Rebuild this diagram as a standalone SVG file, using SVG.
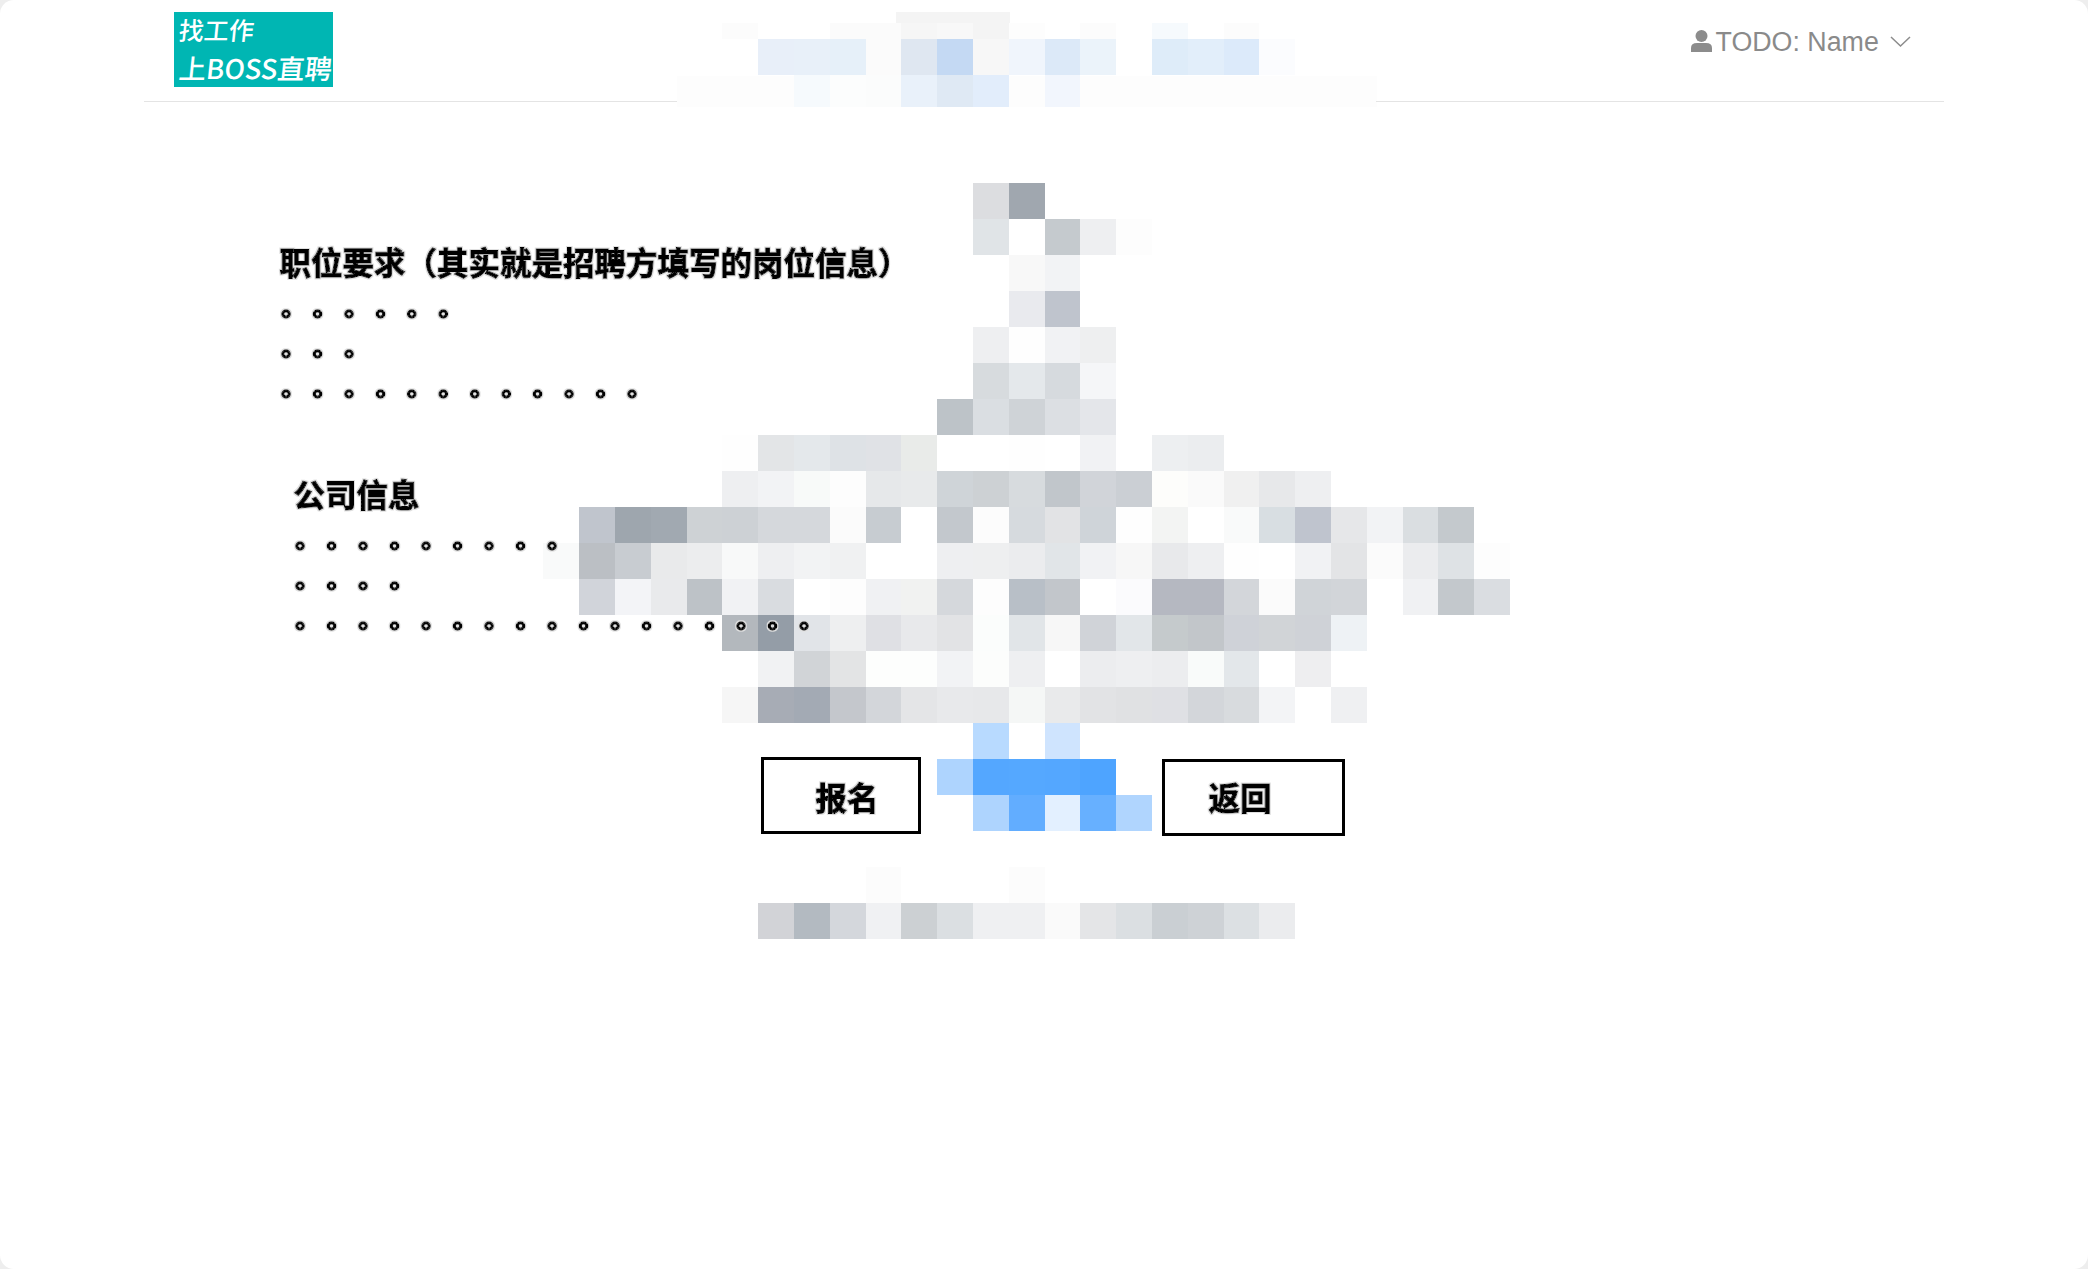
<svg xmlns="http://www.w3.org/2000/svg" width="2088" height="1269" viewBox="0 0 2088 1269">
<style>
.t{font-family:"Noto Sans CJK SC","Noto Sans",sans-serif;font-size:31.5px;font-weight:700;fill:#000;stroke:#000;stroke-width:1px;filter:url(#halo)}
.d{font-family:"Noto Sans CJK SC","Noto Sans",sans-serif;font-size:26px;font-weight:700;fill:#000;stroke:#000;stroke-width:1.4px;filter:url(#halo)}
.l{font-family:"Noto Sans CJK SC","Noto Sans",sans-serif;fill:#fff;font-weight:500}
.b{fill:#fff;stroke:#000;stroke-width:3px}
.rule{fill:#e4e4e4}
</style>
<defs>
<filter id="halo" x="-5%" y="-20%" width="110%" height="140%">
<feMorphology in="SourceAlpha" operator="dilate" radius="1.2" result="d"/>
<feFlood flood-color="#e0e0e0"/>
<feComposite in2="d" operator="in" result="h"/>
<feMerge><feMergeNode in="h"/><feMergeNode in="SourceGraphic"/></feMerge>
</filter>
</defs>
<rect width="2088" height="1269" fill="#eeeeee"/>
<rect width="2088" height="1269" rx="14" fill="#fff"/>
<g id="mosaic" shape-rendering="crispEdges">
<rect x="677" y="76" width="700" height="31" fill="#fdfdfd"/>
<rect x="896" y="12" width="114" height="11" fill="#f4f4f4"/>
<g id="row-23">
<rect x="722" y="23" width="36" height="16" fill="#fcfcfc"/><rect x="830" y="23" width="71" height="16" fill="#fbfbfb"/><rect x="901" y="23" width="36" height="16" fill="#f6f6f6"/><rect x="937" y="23" width="36" height="16" fill="#f8f8f8"/><rect x="973" y="23" width="36" height="16" fill="#f4f4f4"/><rect x="1009" y="23" width="36" height="16" fill="#fdfdfd"/><rect x="1080" y="23" width="36" height="16" fill="#fcfcfc"/><rect x="1152" y="23" width="36" height="16" fill="#f6fafd"/><rect x="1224" y="23" width="35" height="16" fill="#fcfcfc"/>
</g>
<g id="row-39">
<rect x="758" y="39" width="36" height="36" fill="#e8eff9"/><rect x="794" y="39" width="36" height="36" fill="#e8f0f9"/><rect x="830" y="39" width="36" height="36" fill="#e6f0f9"/><rect x="866" y="39" width="35" height="36" fill="#fbfbfb"/><rect x="901" y="39" width="36" height="36" fill="#dfe7f1"/><rect x="937" y="39" width="36" height="36" fill="#c4d9f3"/><rect x="973" y="39" width="36" height="36" fill="#f7f7f7"/><rect x="1009" y="39" width="36" height="36" fill="#f0f5fc"/><rect x="1045" y="39" width="35" height="36" fill="#dce9f8"/><rect x="1080" y="39" width="36" height="36" fill="#ebf3fa"/><rect x="1152" y="39" width="36" height="36" fill="#deecf9"/><rect x="1188" y="39" width="36" height="36" fill="#e2eefa"/><rect x="1224" y="39" width="35" height="36" fill="#dceafa"/><rect x="1259" y="39" width="36" height="36" fill="#fbfcfe"/>
</g>
<g id="row-75">
<rect x="794" y="75" width="36" height="32" fill="#f6fafd"/><rect x="830" y="75" width="36" height="32" fill="#fcfdfd"/><rect x="866" y="75" width="35" height="32" fill="#fbfcfc"/><rect x="901" y="75" width="36" height="32" fill="#e9f1fa"/><rect x="937" y="75" width="36" height="32" fill="#dfe9f4"/><rect x="973" y="75" width="36" height="32" fill="#e2edfb"/><rect x="1045" y="75" width="35" height="32" fill="#f2f6fd"/>
</g>
<g id="row-183">
<rect x="973" y="183" width="36" height="36" fill="#dcdde0"/><rect x="1009" y="183" width="36" height="36" fill="#a0a7af"/>
</g>
<g id="row-219">
<rect x="973" y="219" width="36" height="36" fill="#e0e4e7"/><rect x="1045" y="219" width="35" height="36" fill="#c5cace"/><rect x="1080" y="219" width="36" height="36" fill="#eeeff1"/><rect x="1116" y="219" width="36" height="36" fill="#fdfdfd"/>
</g>
<g id="row-255">
<rect x="1009" y="255" width="36" height="36" fill="#f8f8f8"/><rect x="1045" y="255" width="35" height="36" fill="#f2f3f5"/>
</g>
<g id="row-291">
<rect x="1009" y="291" width="36" height="36" fill="#e9eaee"/><rect x="1045" y="291" width="35" height="36" fill="#bfc4cd"/>
</g>
<g id="row-327">
<rect x="973" y="327" width="36" height="36" fill="#eeeff1"/><rect x="1009" y="327" width="36" height="36" fill="#fefefe"/><rect x="1045" y="327" width="35" height="36" fill="#f1f2f4"/><rect x="1080" y="327" width="36" height="36" fill="#eeeff0"/>
</g>
<g id="row-363">
<rect x="973" y="363" width="36" height="36" fill="#d7dbde"/><rect x="1009" y="363" width="36" height="36" fill="#e4e8eb"/><rect x="1045" y="363" width="35" height="36" fill="#d6dade"/><rect x="1080" y="363" width="36" height="36" fill="#f5f6f8"/>
</g>
<g id="row-399">
<rect x="937" y="399" width="36" height="36" fill="#bdc3c8"/><rect x="973" y="399" width="36" height="36" fill="#dadee2"/><rect x="1009" y="399" width="36" height="36" fill="#cfd3d7"/><rect x="1045" y="399" width="35" height="36" fill="#dcdfe3"/><rect x="1080" y="399" width="36" height="36" fill="#e4e6ea"/>
</g>
<g id="row-435">
<rect x="722" y="435" width="36" height="36" fill="#fefefe"/><rect x="758" y="435" width="36" height="36" fill="#e3e5e7"/><rect x="794" y="435" width="36" height="36" fill="#e4e8eb"/><rect x="830" y="435" width="36" height="36" fill="#dee2e6"/><rect x="866" y="435" width="35" height="36" fill="#e0e2e6"/><rect x="901" y="435" width="36" height="36" fill="#e9ebe9"/><rect x="1009" y="435" width="36" height="36" fill="#fefefe"/><rect x="1080" y="435" width="36" height="36" fill="#f1f2f4"/><rect x="1152" y="435" width="36" height="36" fill="#edeff1"/><rect x="1188" y="435" width="36" height="36" fill="#ebedef"/>
</g>
<g id="row-471">
<rect x="722" y="471" width="36" height="36" fill="#eeeff1"/><rect x="758" y="471" width="36" height="36" fill="#f2f3f5"/><rect x="794" y="471" width="36" height="36" fill="#f8faf9"/><rect x="830" y="471" width="36" height="36" fill="#fdfdfd"/><rect x="866" y="471" width="35" height="36" fill="#e6e8ea"/><rect x="901" y="471" width="36" height="36" fill="#e8eaeb"/><rect x="937" y="471" width="36" height="36" fill="#cfd4d8"/><rect x="973" y="471" width="36" height="36" fill="#cdd1d4"/><rect x="1009" y="471" width="36" height="36" fill="#d7dbde"/><rect x="1045" y="471" width="35" height="36" fill="#c1c6cb"/><rect x="1080" y="471" width="36" height="36" fill="#d1d4d9"/><rect x="1116" y="471" width="36" height="36" fill="#cbcfd4"/><rect x="1152" y="471" width="36" height="36" fill="#fdfdfb"/><rect x="1188" y="471" width="36" height="36" fill="#fafafa"/><rect x="1224" y="471" width="35" height="36" fill="#f0f0f0"/><rect x="1259" y="471" width="36" height="36" fill="#e7e8ea"/><rect x="1295" y="471" width="36" height="36" fill="#eeeff1"/>
</g>
<g id="row-507">
<rect x="579" y="507" width="36" height="36" fill="#c0c5cd"/><rect x="615" y="507" width="36" height="36" fill="#9ea6ae"/><rect x="651" y="507" width="36" height="36" fill="#a1a9b1"/><rect x="687" y="507" width="35" height="36" fill="#ced2d5"/><rect x="722" y="507" width="36" height="36" fill="#cdd1d5"/><rect x="758" y="507" width="36" height="36" fill="#d5d8dc"/><rect x="794" y="507" width="36" height="36" fill="#d5d8dc"/><rect x="830" y="507" width="36" height="36" fill="#fbfbfb"/><rect x="866" y="507" width="35" height="36" fill="#c7ccd1"/><rect x="937" y="507" width="36" height="36" fill="#c3c8cd"/><rect x="973" y="507" width="36" height="36" fill="#fcfcfc"/><rect x="1009" y="507" width="36" height="36" fill="#d6dade"/><rect x="1045" y="507" width="35" height="36" fill="#e2e3e5"/><rect x="1080" y="507" width="36" height="36" fill="#cfd4d9"/><rect x="1116" y="507" width="36" height="36" fill="#fefefe"/><rect x="1152" y="507" width="36" height="36" fill="#f3f4f3"/><rect x="1224" y="507" width="35" height="36" fill="#f9fafa"/><rect x="1259" y="507" width="36" height="36" fill="#d8dee2"/><rect x="1295" y="507" width="36" height="36" fill="#bfc4ce"/><rect x="1331" y="507" width="36" height="36" fill="#e6e7e9"/><rect x="1367" y="507" width="36" height="36" fill="#f2f3f5"/><rect x="1403" y="507" width="35" height="36" fill="#dadee1"/><rect x="1438" y="507" width="36" height="36" fill="#c4c9cd"/>
</g>
<g id="row-543">
<rect x="543" y="543" width="36" height="36" fill="#f9fafa"/><rect x="579" y="543" width="36" height="36" fill="#bbbfc4"/><rect x="615" y="543" width="36" height="36" fill="#c8ccd1"/><rect x="651" y="543" width="36" height="36" fill="#e9eaeb"/><rect x="687" y="543" width="35" height="36" fill="#ecedee"/><rect x="722" y="543" width="36" height="36" fill="#f8f9f9"/><rect x="758" y="543" width="36" height="36" fill="#eeeff1"/><rect x="794" y="543" width="36" height="36" fill="#f2f3f4"/><rect x="830" y="543" width="36" height="36" fill="#f0f1f2"/><rect x="937" y="543" width="36" height="36" fill="#eeeff1"/><rect x="973" y="543" width="36" height="36" fill="#eeeff0"/><rect x="1009" y="543" width="36" height="36" fill="#ebecee"/><rect x="1045" y="543" width="35" height="36" fill="#e1e5e8"/><rect x="1080" y="543" width="36" height="36" fill="#f1f2f4"/><rect x="1116" y="543" width="36" height="36" fill="#f7f7f7"/><rect x="1152" y="543" width="36" height="36" fill="#e8e9eb"/><rect x="1188" y="543" width="36" height="36" fill="#eeeff1"/><rect x="1224" y="543" width="35" height="36" fill="#fefefe"/><rect x="1295" y="543" width="36" height="36" fill="#f1f2f4"/><rect x="1331" y="543" width="36" height="36" fill="#e3e4e6"/><rect x="1367" y="543" width="36" height="36" fill="#fbfbfb"/><rect x="1403" y="543" width="35" height="36" fill="#ebecee"/><rect x="1438" y="543" width="36" height="36" fill="#dee2e5"/><rect x="1474" y="543" width="36" height="36" fill="#fdfdfd"/>
</g>
<g id="row-579">
<rect x="579" y="579" width="36" height="36" fill="#d1d4da"/><rect x="615" y="579" width="36" height="36" fill="#f3f4f7"/><rect x="651" y="579" width="36" height="36" fill="#e9eaec"/><rect x="687" y="579" width="35" height="36" fill="#bdc2c7"/><rect x="722" y="579" width="36" height="36" fill="#f1f2f4"/><rect x="758" y="579" width="36" height="36" fill="#d9dce0"/><rect x="830" y="579" width="36" height="36" fill="#fdfdfd"/><rect x="866" y="579" width="35" height="36" fill="#f0f1f3"/><rect x="901" y="579" width="36" height="36" fill="#f1f2f1"/><rect x="937" y="579" width="36" height="36" fill="#d5d8dc"/><rect x="973" y="579" width="36" height="36" fill="#fdfdfd"/><rect x="1009" y="579" width="36" height="36" fill="#b8bfc7"/><rect x="1045" y="579" width="35" height="36" fill="#c2c6cb"/><rect x="1116" y="579" width="36" height="36" fill="#fbfbfd"/><rect x="1152" y="579" width="36" height="36" fill="#b5b8c1"/><rect x="1188" y="579" width="36" height="36" fill="#b5b8c1"/><rect x="1224" y="579" width="35" height="36" fill="#d3d6da"/><rect x="1259" y="579" width="36" height="36" fill="#fbfbfb"/><rect x="1295" y="579" width="36" height="36" fill="#d0d4d8"/><rect x="1331" y="579" width="36" height="36" fill="#d2d5d9"/><rect x="1403" y="579" width="35" height="36" fill="#f0f1f3"/><rect x="1438" y="579" width="36" height="36" fill="#c3c8cc"/><rect x="1474" y="579" width="36" height="36" fill="#dadde1"/>
</g>
<g id="row-615">
<rect x="722" y="615" width="36" height="36" fill="#b3b8bd"/><rect x="758" y="615" width="36" height="36" fill="#949da7"/><rect x="794" y="615" width="36" height="36" fill="#e1e4e8"/><rect x="830" y="615" width="36" height="36" fill="#eeeff0"/><rect x="866" y="615" width="35" height="36" fill="#dfe0e4"/><rect x="901" y="615" width="36" height="36" fill="#e8e9eb"/><rect x="937" y="615" width="36" height="36" fill="#e2e3e5"/><rect x="973" y="615" width="36" height="36" fill="#fbfdfc"/><rect x="1009" y="615" width="36" height="36" fill="#e1e5e8"/><rect x="1045" y="615" width="35" height="36" fill="#f7f7f7"/><rect x="1080" y="615" width="36" height="36" fill="#d0d3d8"/><rect x="1116" y="615" width="36" height="36" fill="#e2e6e9"/><rect x="1152" y="615" width="36" height="36" fill="#c5cacc"/><rect x="1188" y="615" width="36" height="36" fill="#c2c6ca"/><rect x="1224" y="615" width="35" height="36" fill="#cfd2d8"/><rect x="1259" y="615" width="36" height="36" fill="#d1d4d7"/><rect x="1295" y="615" width="36" height="36" fill="#cfd2d7"/><rect x="1331" y="615" width="36" height="36" fill="#eef2f5"/>
</g>
<g id="row-651">
<rect x="758" y="651" width="36" height="36" fill="#f1f2f3"/><rect x="794" y="651" width="36" height="36" fill="#d1d4d7"/><rect x="830" y="651" width="36" height="36" fill="#e3e4e5"/><rect x="866" y="651" width="35" height="36" fill="#fdfefd"/><rect x="901" y="651" width="36" height="36" fill="#fdfefd"/><rect x="937" y="651" width="36" height="36" fill="#f2f3f5"/><rect x="973" y="651" width="36" height="36" fill="#fcfdfc"/><rect x="1009" y="651" width="36" height="36" fill="#eeeff1"/><rect x="1080" y="651" width="36" height="36" fill="#ecedef"/><rect x="1116" y="651" width="36" height="36" fill="#eeeff1"/><rect x="1152" y="651" width="36" height="36" fill="#ecedef"/><rect x="1188" y="651" width="36" height="36" fill="#f9fbfa"/><rect x="1224" y="651" width="35" height="36" fill="#e3e7ea"/><rect x="1295" y="651" width="36" height="36" fill="#eeeef0"/>
</g>
<g id="row-687">
<rect x="722" y="687" width="36" height="36" fill="#f6f6f6"/><rect x="758" y="687" width="36" height="36" fill="#a7acb5"/><rect x="794" y="687" width="36" height="36" fill="#a3aab4"/><rect x="830" y="687" width="36" height="36" fill="#c4c7cc"/><rect x="866" y="687" width="35" height="36" fill="#d3d6da"/><rect x="901" y="687" width="36" height="36" fill="#e4e5e7"/><rect x="937" y="687" width="36" height="36" fill="#e8e9eb"/><rect x="973" y="687" width="36" height="36" fill="#e7e8ea"/><rect x="1009" y="687" width="36" height="36" fill="#f5f7f6"/><rect x="1045" y="687" width="35" height="36" fill="#e9eaeb"/><rect x="1080" y="687" width="36" height="36" fill="#e2e3e5"/><rect x="1116" y="687" width="36" height="36" fill="#e0e1e3"/><rect x="1152" y="687" width="36" height="36" fill="#dfe0e4"/><rect x="1188" y="687" width="36" height="36" fill="#d3d6da"/><rect x="1224" y="687" width="35" height="36" fill="#d8dbde"/><rect x="1259" y="687" width="36" height="36" fill="#f3f4f6"/><rect x="1331" y="687" width="36" height="36" fill="#eff0f2"/>
</g>
<g id="row-723">
<rect x="973" y="723" width="36" height="36" fill="#b8daff"/><rect x="1045" y="723" width="35" height="36" fill="#cfe4fe"/>
</g>
<g id="row-759">
<rect x="937" y="759" width="36" height="36" fill="#aed4fe"/><rect x="973" y="759" width="36" height="36" fill="#54a7ff"/><rect x="1009" y="759" width="36" height="36" fill="#55a8ff"/><rect x="1045" y="759" width="35" height="36" fill="#54a7ff"/><rect x="1080" y="759" width="36" height="36" fill="#4ea4ff"/>
</g>
<g id="row-795">
<rect x="973" y="795" width="36" height="36" fill="#aed4fe"/><rect x="1009" y="795" width="36" height="36" fill="#62adff"/><rect x="1045" y="795" width="35" height="36" fill="#e3f0ff"/><rect x="1080" y="795" width="36" height="36" fill="#67b0ff"/><rect x="1116" y="795" width="36" height="36" fill="#b0d5fe"/>
</g>
<g id="row-867">
<rect x="866" y="867" width="35" height="36" fill="#fcfcfc"/><rect x="1009" y="867" width="36" height="36" fill="#fcfcfc"/>
</g>
<g id="row-903">
<rect x="758" y="903" width="36" height="36" fill="#d2d3d7"/><rect x="794" y="903" width="36" height="36" fill="#b3bac1"/><rect x="830" y="903" width="36" height="36" fill="#d4d7dc"/><rect x="866" y="903" width="35" height="36" fill="#f0f1f3"/><rect x="901" y="903" width="36" height="36" fill="#ccd0d3"/><rect x="937" y="903" width="36" height="36" fill="#dbdfe2"/><rect x="973" y="903" width="36" height="36" fill="#eff0f2"/><rect x="1009" y="903" width="36" height="36" fill="#eff0f2"/><rect x="1045" y="903" width="35" height="36" fill="#fafafa"/><rect x="1080" y="903" width="36" height="36" fill="#e4e5e7"/><rect x="1116" y="903" width="36" height="36" fill="#dbdfe2"/><rect x="1152" y="903" width="36" height="36" fill="#cacfd3"/><rect x="1188" y="903" width="36" height="36" fill="#ced2d6"/><rect x="1224" y="903" width="35" height="36" fill="#dce0e3"/><rect x="1259" y="903" width="36" height="36" fill="#ebecee"/>
</g>
</g>
<g id="header">
<rect class="rule" x="144" y="101" width="533" height="1"/>
<rect class="rule" x="1376" y="101" width="568" height="1"/>
<g id="logo">
<rect x="174" y="12" width="159" height="75" fill="#00b6b3"/>
<text class="l" transform="translate(178 40) skewX(-6)" font-size="25" textLength="75" lengthAdjust="spacingAndGlyphs">找工作</text>
<text class="l" transform="translate(178 79) skewX(-6)" font-size="27" textLength="153" lengthAdjust="spacingAndGlyphs">上BOSS直聘</text>
</g>
<g id="user">
<circle cx="1701.500" cy="36" r="6" fill="#8c8c8c"/>
<path d="M1691 52v-4q0-5 6-5h9q6 0 6 5v4z" fill="#8c8c8c"/>
<text x="1715.500" y="51" font-family="Liberation Sans, Arial, sans-serif" font-size="26.800" fill="#8a8a8a">TODO: Name</text>
<path d="M1891 37l9.500 9 9.500-9" fill="none" stroke="#8c8c8c" stroke-width="1.500"/>
</g>
</g>
<g id="job">
<text class="t" x="279.500" y="274.500">职位要求（其实就是招聘方填写的岗位信息）</text>
<text class="d" y="316.400" x="281 312.500 343.900 375.400 406.800 438.300">。。。。。。</text>
<text class="d" y="356.400" x="281 312.500 343.900">。。。</text>
<text class="d" y="396.400" x="281 312.500 343.900 375.400 406.800 438.300 469.700 501.200 532.600 564.100 595.500 627">。。。。。。。。。。。。</text>
</g>
<g id="company">
<text class="t" x="293.500" y="506.500">公司信息</text>
<text class="d" y="548.400" x="295 326.500 358 389.500 421 452.500 484 515.500 547">。。。。。。。。。</text>
<text class="d" y="588.400" x="295 326.500 358 389.500">。。。。</text>
<text class="d" y="628.400" x="295 326.500 358 389.500 421 452.500 484 515.500 547 578.500 610 641.500 673 704.500 736 767.500 799">。。。。。。。。。。。。。。。。。</text>
</g>
<g id="btn-signup">
<rect class="b" x="762.500" y="758.500" width="157" height="74"/>
<text class="t" x="815.500" y="810">报名</text>
</g>
<g id="btn-back">
<rect class="b" x="1163.500" y="760.500" width="180" height="74"/>
<text class="t" x="1208.500" y="810">返回</text>
</g>
</svg>
